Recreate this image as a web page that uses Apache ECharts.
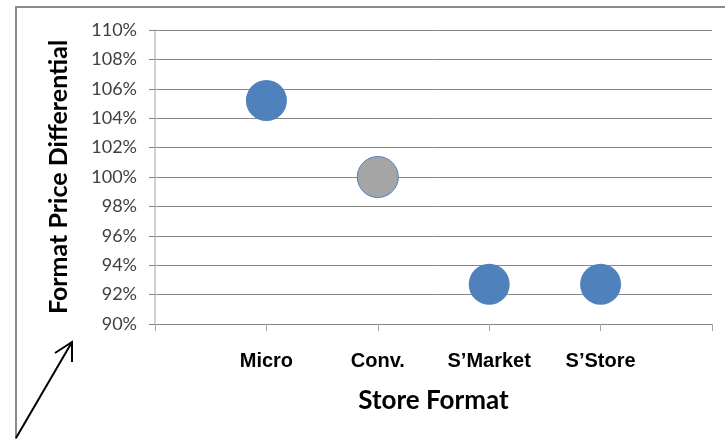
<!DOCTYPE html>
<html>
<head>
<meta charset="utf-8">
<script src="https://cdn.jsdelivr.net/npm/echarts@6/dist/echarts.min.js"></script>
<style>html,body{margin:0;padding:0;background:#fff;}#c{width:725px;height:439px;}</style>
</head>
<body>
<div id="c"></div>
<script>
const categories = ['Micro', 'Conv.', 'S\u2019Market', 'S\u2019Store'];
const values = [105.2, 100.0, 92.7, 92.7];
const pointColors = ['#4f81bd', '#a5a5a5', '#4f81bd', '#4f81bd'];
const yMin = 90, yMax = 110, yStep = 2;

const chart = echarts.init(document.getElementById('c'), null, {renderer: 'canvas'});
const data = values.map((v, i) => ({
  value: [i + 1, v],
  itemStyle: {color: pointColors[i], opacity: 1, borderColor: '#4f81bd', borderWidth: i === 1 ? 1 : 0}
}));

chart.setOption({
  animation: false,
  backgroundColor: '#fff',
  grid: {left: 155, right: 13, top: 30, bottom: 115},
  xAxis: {
    type: 'value', min: 0, max: categories.length + 1, interval: 1,
    axisLine: {show: true, lineStyle: {color: '#868686', width: 1}},
    axisTick: {show: true, inside: false, length: 7, lineStyle: {color: '#a6a6a6'}},
    splitLine: {show: false},
    axisLabel: {
      margin: 27,
      fontFamily: 'Liberation Sans', fontWeight: 'bold', fontSize: 20, color: '#000',
      formatter: v => (v >= 1 && v <= categories.length) ? categories[v - 1] : ''
    },
    name: 'Store Format', nameLocation: 'middle', nameGap: 64,
    nameTextStyle: {fontFamily: 'Lato', fontWeight: 'bold', fontSize: 26, color: '#000'}
  },
  yAxis: {
    type: 'value', min: yMin, max: yMax, interval: yStep,
    axisLine: {show: true, lineStyle: {color: '#c0c0c0', width: 1.5}},
    axisTick: {show: true, length: 6, lineStyle: {color: '#868686'}},
    splitLine: {show: true, lineStyle: {color: '#868686', width: 1}},
    axisLabel: {
      margin: 18, fontFamily: 'Lato', fontSize: 18, color: '#404040',
      formatter: '{value}%'
    },
    name: 'Format Price Differential', nameLocation: 'middle', nameGap: 84,
    nameTextStyle: {fontFamily: 'Lato', fontWeight: 'bold', fontSize: 25, color: '#000'}
  },
  series: [{
    type: 'scatter', symbol: 'circle', symbolSize: 41,
    data: data
  }],
  graphic: [
    {type: 'rect', shape: {x: 16, y: 7, width: 720, height: 440},
     style: {fill: 'none', stroke: '#8c8c8c', lineWidth: 2}, z: 100},
    {type: 'polyline', shape: {points: [[16, 438], [72, 342]]},
     style: {stroke: '#000', lineWidth: 2, fill: 'none'}, z: 100},
    {type: 'polyline', shape: {points: [[55, 353], [72, 342], [72, 362]]},
     style: {stroke: '#000', lineWidth: 2, fill: 'none'}, z: 100}
  ]
});
</script>
</body>
</html>
